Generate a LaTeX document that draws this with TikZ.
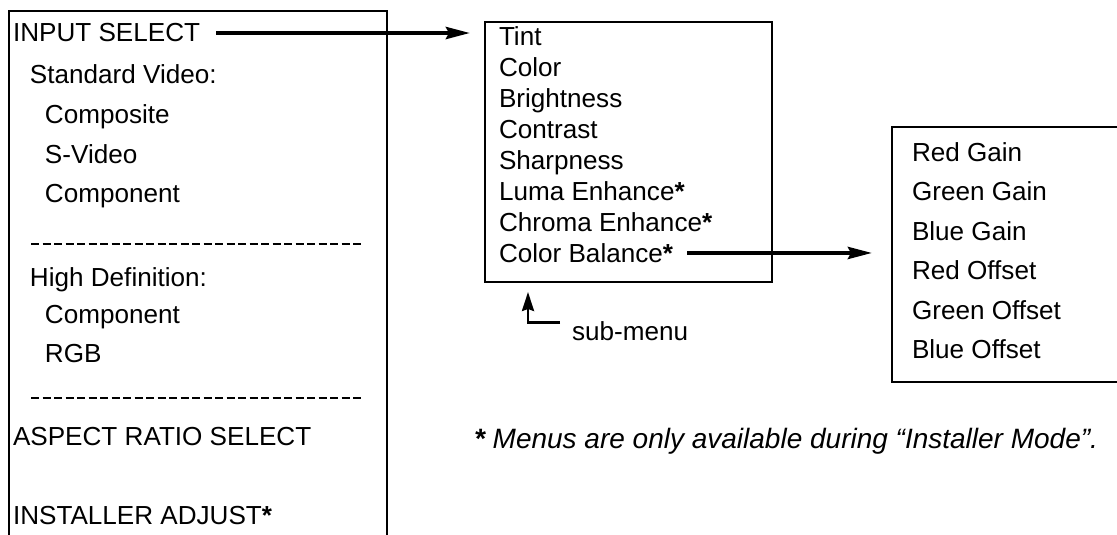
\documentclass[tikz,border=0pt]{standalone}
\usepackage{fontspec}
\setmainfont{Liberation Sans}
\usetikzlibrary{arrows.meta,calc}
\begin{document}
\begin{tikzpicture}[x=1pt,y=-1pt,
  txt/.style={anchor=base west, inner sep=0pt, outer sep=0pt, font=\fontsize{26.1}{30}\selectfont},
  frame/.style={line width=2.5pt},
  boxnode/.style={anchor=north west, inner sep=0pt, outer sep=0pt},
  bigarrow/.style={line width=4pt, -{Stealth[length=24pt,width=12pt,inset=3pt]}},
  smallarrow/.style={line width=2.5pt, -{Stealth[length=19pt,width=12pt,inset=2pt]}},
  sepline/.style={line width=2.6pt, dash pattern=on 8pt off 3.5pt}]
\useasboundingbox (0,0) rectangle (1117,535);
\fill[white] (0,0) rectangle (1117,535);

% left menu box (open at the bottom)
\node[boxnode, minimum width=378pt, minimum height=540pt] (lbox) at (9,11) {};
\draw[frame] (lbox.south west) -- (lbox.north west) -- (lbox.north east) -- (lbox.south east);

\node[txt] (inp) at (13,42) {INPUT SELECT};
\node[txt] (std) at (30,84) {Standard Video:};
\node[txt] (comp1) at (45,123) {Composite};
\node[txt] (svid) at (45,163) {S-Video};
\node[txt] (comp2) at (45,202) {Component};
\draw[sepline] (31,244) -- (362,244);
\node[txt] (hd) at (30,286) {High Definition:};
\node[txt] (comp3) at (45,323) {Component};
\node[txt] (rgb) at (45,362) {RGB};
\draw[sepline] (31,398) -- (362,398);
\node[txt] (asp) at (13,445) {ASPECT RATIO SELECT};
\node[txt] (inst) at (13,524) {INSTALLER ADJUST\textbf{*}};

% middle sub-menu box
\node[boxnode, draw, frame, minimum width=287pt, minimum height=260pt] (mid) at (485,22) {};
\node[txt] (tint) at (499,46) {Tint};
\node[txt] (col) at (499,76.9) {Color};
\node[txt] (bri) at (499,107.8) {Brightness};
\node[txt] (con) at (499,138.7) {Contrast};
\node[txt] (sha) at (499,169.6) {Sharpness};
\node[txt] (luma) at (499,200.5) {Luma Enhance\textbf{*}};
\node[txt] (chro) at (499,231.4) {Chroma Enhance\textbf{*}};
\node[txt] (cbal) at (499,262.3) {Color Balance\textbf{*}};

% right box (open at the right)
\node[boxnode, minimum width=260pt, minimum height=255pt] (rbox) at (892,127) {};
\draw[frame] (rbox.north east) -- (rbox.north west) -- (rbox.south west) -- (rbox.south east);
\node[txt] (rg) at (912,161) {Red Gain};
\node[txt] (gg) at (912,200.5) {Green Gain};
\node[txt] (bg) at (912,240) {Blue Gain};
\node[txt] (ro) at (912,279.5) {Red Offset};
\node[txt] (go) at (912,319) {Green Offset};
\node[txt] (bo) at (912,358.5) {Blue Offset};

% arrows
\draw[bigarrow, shorten <=16pt, shorten >=15pt] (inp.east) -- (inp.east -| mid.west);
\draw[bigarrow, shorten <=14pt, shorten >=20pt] (cbal.east) -- (cbal.east -| rbox.west);

\node[txt] (sub) at (572,340) {sub-menu};
\coordinate (subtip) at (528,292);
\draw[smallarrow, shorten <=12pt] ($(sub.west)+(0,-8)$) -| (subtip);

% footnote
\node[txt, font=\fontsize{28}{32}\selectfont\itshape] (note) at (474,448) {\textbf{*} Menus are only available during “Installer Mode”.};
\end{tikzpicture}
\end{document}
